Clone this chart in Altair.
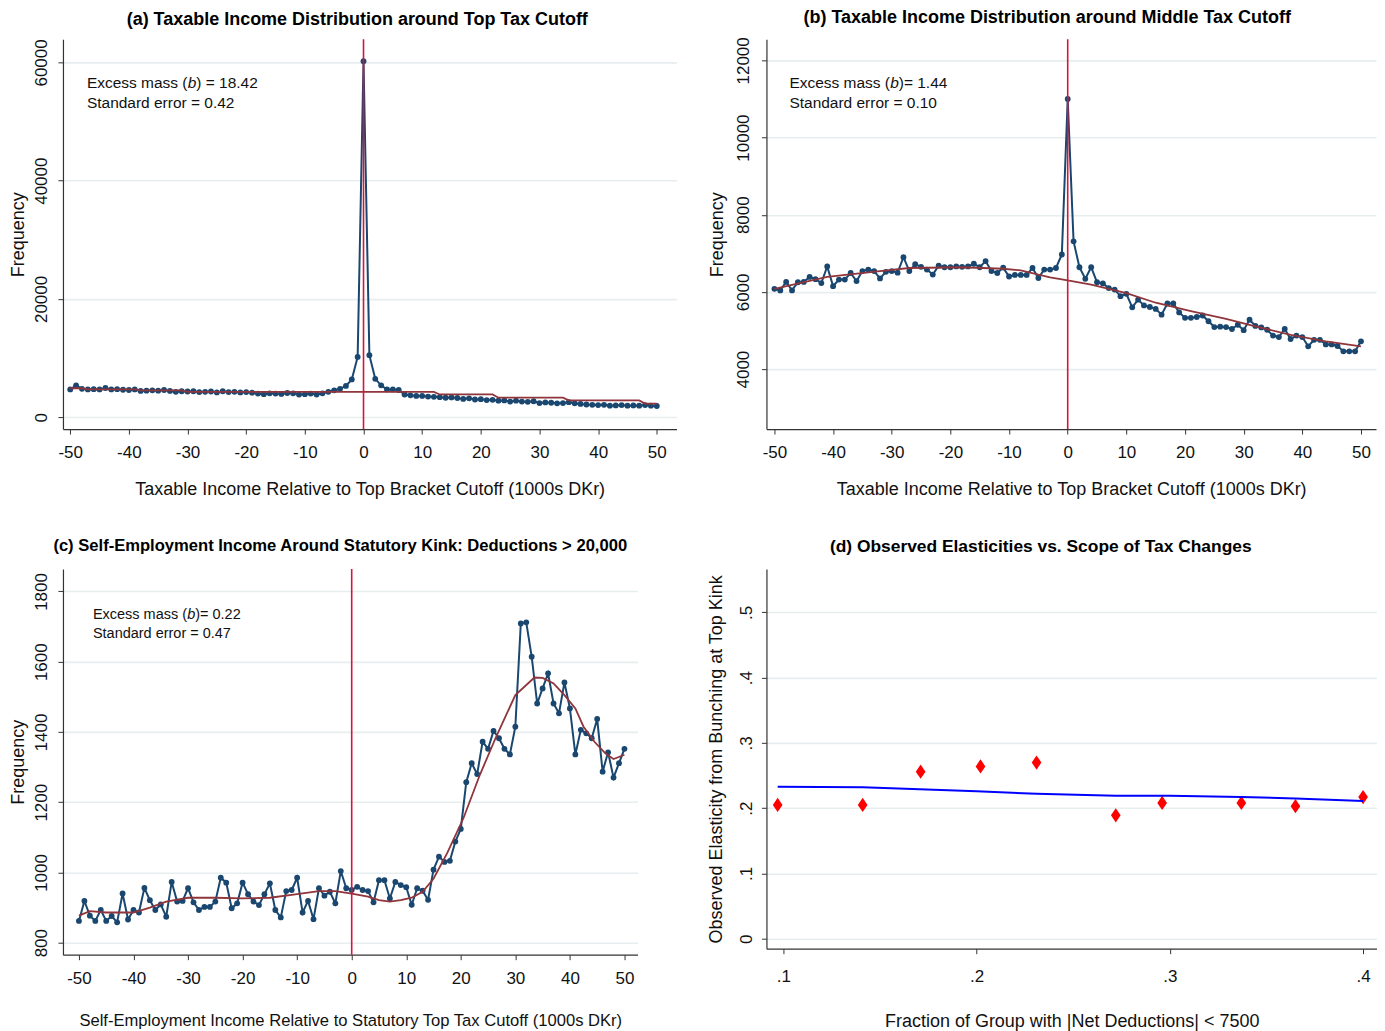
import altair as alt
import pandas as pd

# ---------------- data ----------------
bins = list(range(-50, 51))

a_freq = [4700, 5400, 4800, 4700, 4750, 4700, 4950, 4700, 4750, 4650,
          4600, 4700, 4450, 4500, 4550, 4500, 4600, 4450, 4300, 4400,
          4350, 4400, 4250, 4300, 4350, 4200, 4400, 4250, 4300, 4200,
          4250, 4150, 4000, 3900, 4050, 4000, 3950, 4100, 4050, 3850,
          3900, 4000, 3850, 4050, 4300, 4550, 4800, 5300, 6400, 10200,
          60200, 10500, 6500, 5400, 4700, 4700, 4600, 3850, 3700, 3600,
          3600, 3500, 3450, 3400, 3300, 3350, 3250, 3100, 3200, 3000,
          3050, 2900, 2950, 2800, 2850, 2650, 2800, 2650, 2600, 2700,
          2400, 2500, 2450, 2350, 2400, 2550, 2350, 2250, 2150, 2100,
          2050, 2100, 1950, 2000, 2050, 1950, 2000, 1950, 2050, 1950,
          1900]
a_fit_x = [-50, -48, -47, -39, -38, -31, -30, 12, 13, 22, 23, 34, 35, 47, 48, 50]
a_fit_y = [4900, 4900, 4700, 4700, 4550, 4550, 4300, 4300, 3850, 3850, 3300, 3300,
           2850, 2850, 2300, 2300]

b_freq = [6080, 6040, 6260, 6040, 6250, 6260, 6390, 6330, 6230, 6660,
          6150, 6320, 6320, 6490, 6280, 6540, 6580, 6540, 6350, 6520,
          6540, 6500, 6900, 6540, 6720, 6650, 6580, 6450, 6680, 6640,
          6640, 6660, 6650, 6660, 6730, 6640, 6800, 6540, 6490, 6630,
          6400, 6440, 6440, 6440, 6620, 6360, 6580, 6580, 6620, 6970,
          11000, 7310, 6640, 6340, 6640, 6250, 6220, 6100, 6060, 5890,
          5950, 5600, 5800, 5650, 5610, 5560, 5410, 5700, 5700, 5470,
          5330, 5330, 5350, 5390, 5240, 5090, 5100, 5090, 5040, 5150,
          5010, 5280, 5120, 5080, 5020, 4870, 4830, 5040, 4780, 4870,
          4830, 4590, 4760, 4760, 4640, 4640, 4600, 4460, 4460, 4460,
          4720]
b_fit_x = [-50, -41, -32, -27, -18, -11, -8, -5, -3, 0, 4, 10, 15, 21, 27, 32, 38, 44, 50]
b_fit_y = [6080, 6390, 6540, 6620, 6640, 6600, 6560, 6450, 6380, 6300, 6190, 5970,
           5720, 5500, 5300, 5110, 4890, 4720, 4590]

c_freq = [862, 919, 877, 862, 893, 862, 876, 858, 940, 866,
          893, 886, 956, 921, 893, 909, 874, 973, 917, 919,
          955, 915, 893, 902, 902, 917, 985, 971, 898, 912,
          971, 938, 917, 907, 938, 969, 893, 872, 947, 950,
          985, 886, 919, 867, 955, 934, 945, 912, 1004, 955,
          950, 959, 950, 947, 915, 978, 978, 926, 973, 964,
          958, 908, 955, 948, 922, 1008, 1045, 1030, 1033, 1088,
          1124, 1257, 1311, 1280, 1372, 1352, 1403, 1382, 1352, 1336,
          1415, 1709, 1712, 1614, 1481, 1524, 1567, 1481, 1453, 1541,
          1467, 1336, 1406, 1396, 1382, 1437, 1287, 1342, 1270, 1311,
          1352]
c_fit_x = [-50, -48, -45, -40, -37, -34, -30, -25, -20, -15, -10, -6, -3, 0, 3, 5, 7, 9,
           11, 13, 15, 17.5, 20.5, 23.5, 26.5, 30, 33.5, 35, 37, 39, 41, 42.5, 44.5,
           46.5, 48, 50]
c_fit_y = [877, 890, 886, 886, 900, 917, 928, 928, 926, 928, 938, 947, 947, 940, 931,
           921, 917, 921, 928, 945, 982, 1055, 1155, 1278, 1387, 1505, 1555, 1554,
           1538, 1505, 1467, 1415, 1372, 1339, 1323, 1335]

d_frac = [0.097, 0.141, 0.171, 0.202, 0.231, 0.272, 0.296, 0.337, 0.365, 0.400]
d_elast = [0.205, 0.205, 0.256, 0.264, 0.270, 0.189, 0.208, 0.208, 0.203, 0.217]
d_fit_x = [0.097, 0.141, 0.200, 0.231, 0.272, 0.300, 0.337, 0.365, 0.400]
d_fit_y = [0.233, 0.232, 0.226, 0.222, 0.219, 0.219, 0.217, 0.215, 0.211]

titles = ["(a) Taxable Income Distribution around Top Tax Cutoff",
          "(b) Taxable Income Distribution around Middle Tax Cutoff",
          "(c) Self-Employment Income Around Statutory Kink: Deductions > 20,000",
          "(d) Observed Elasticities vs. Scope of Tax Changes"]
x_titles = ["Taxable Income Relative to Top Bracket Cutoff (1000s DKr)",
            "Taxable Income Relative to Top Bracket Cutoff (1000s DKr)",
            "Self-Employment Income Relative to Statutory Top Tax Cutoff (1000s DKr)",
            "Fraction of Group with |Net Deductions| < 7500"]
y_titles = ["Frequency", "Frequency", "Frequency",
            "Observed Elasticity  from Bunching at Top Kink"]
excess = [("Excess mass (", ") = 18.42", "Standard error = 0.42"),
          ("Excess mass (", ")= 1.44", "Standard error = 0.10"),
          ("Excess mass (", ")= 0.22", "Standard error = 0.47")]

x_ticks = [-50, -40, -30, -20, -10, 0, 10, 20, 30, 40, 50]
y_ticks = [[0, 20000, 40000, 60000],
           [4000, 6000, 8000, 10000, 12000],
           [800, 1000, 1200, 1400, 1600, 1800],
           [0, 0.1, 0.2, 0.3, 0.4, 0.5]]
d_x_ticks = [0.1, 0.2, 0.3, 0.4]

# ---------------- style ----------------
FONT = "Liberation Sans"
NAVY = "#1a476f"
MAROON = "#90353b"
VLINE = "#d4163c"
GRID = "#e6eef0"
INK = "#111111"
INT_LABEL = "datum.value + ''"
DEC_LABEL = "datum.value == 0 ? '0' : replace(format(datum.value, '.1f'), '0.', '.')"
NO_FRAME = alt.ViewBackground(stroke="transparent", strokeWidth=0)


def xaxis(title, values, pad, tpad, label_expr=INT_LABEL, tsize=18):
    return alt.Axis(title=title, values=values, grid=False, labelExpr=label_expr,
                    domainColor="#333333", domainWidth=1.2, tickColor="#333333",
                    tickSize=5, labelPadding=pad, labelFont=FONT, labelFontSize=17,
                    labelColor=INK, labelAngle=0, titleFont=FONT, titleFontSize=tsize,
                    titleFontWeight="normal", titleColor=INK, titlePadding=tpad,
                    labelFlush=False, labelOverlap=False)


def yaxis(title, values, pad, tpad, label_expr=INT_LABEL):
    return alt.Axis(title=title, values=values, grid=True, gridColor=GRID, gridWidth=1.6,
                    domainColor="#333333", domainWidth=1.2, tickColor="#333333",
                    tickSize=5, labelPadding=pad, labelFont=FONT, labelFontSize=17,
                    labelColor=INK, labelAngle=270, labelAlign="center",
                    labelBaseline="bottom", labelExpr=label_expr,
                    titleFont=FONT, titleFontSize=18, titleFontWeight="normal",
                    titleColor=INK, titlePadding=tpad, labelFlush=False,
                    labelOverlap=False)


def annotation(parts, x0, y0, size, w1, w2, gap):
    first, rest, second = parts
    base = alt.Chart(pd.DataFrame({"k": [0]}))
    common = dict(align="left", baseline="middle", font=FONT, fontSize=size, color=INK)
    t1 = base.mark_text(**common).encode(x=alt.value(x0), y=alt.value(y0),
                                         text=alt.value(first))
    t2 = base.mark_text(fontStyle="italic", **common).encode(
        x=alt.value(x0 + w1), y=alt.value(y0), text=alt.value("b"))
    t3 = base.mark_text(**common).encode(x=alt.value(x0 + w1 + w2), y=alt.value(y0),
                                         text=alt.value(rest))
    t4 = base.mark_text(**common).encode(x=alt.value(x0), y=alt.value(y0 + gap),
                                         text=alt.value(second))
    return [t1, t2, t3, t4]


def title(i, size, dx, offset):
    return alt.TitleParams(titles[i], font=FONT, fontSize=size, fontWeight="bold",
                           color="#000000", anchor="middle", frame="group",
                           dx=dx, offset=offset)


def hist_panel(i, freq, fit_x, fit_y, xdom, ydom, w, h, xaxis_args, ypad, ytpad,
               ttl, ann):
    df = pd.DataFrame({"x": bins, "y": freq})
    fit = pd.DataFrame({"x": fit_x, "y": fit_y})
    xs = alt.Scale(domain=xdom, nice=False, zero=False)
    ys = alt.Scale(domain=ydom, nice=False, zero=False)
    xe = alt.X("x:Q", scale=xs, axis=xaxis(x_titles[i], x_ticks, *xaxis_args))
    ye = alt.Y("y:Q", scale=ys, axis=yaxis(y_titles[i], y_ticks[i], ypad, ytpad))
    base = alt.Chart(df)
    line = base.mark_line(color=NAVY, strokeWidth=2, clip=True).encode(x=xe, y=ye)
    pts = base.mark_circle(color=NAVY, size=34, opacity=1, clip=True).encode(
        x="x:Q", y="y:Q")
    fitl = alt.Chart(fit).mark_line(color=MAROON, strokeWidth=1.8).encode(
        x="x:Q", y="y:Q")
    vl = alt.Chart(pd.DataFrame({"x": [0]})).mark_rule(
        color=VLINE, strokeWidth=1.6).encode(x="x:Q")
    layers = [line, pts, fitl, vl] + annotation(*ann)
    return alt.layer(*layers).properties(width=w, height=h, title=ttl, view=NO_FRAME)


pa = hist_panel(0, a_freq, a_fit_x, a_fit_y, [-51.24, 53.36], [-2000, 63900], 614, 390,
                (10, 20), 7, 5, title(0, 18, -12.5, 10),
                (excess[0], 24, 44, 15.5, 100.8, 8.6, 20))
pb = hist_panel(1, b_freq, b_fit_x, b_fit_y, [-51.36, 52.56], [2447, 12544], 610, 390,
                (10, 20), 9, 8, title(1, 18, -24, 10),
                (excess[1], 23, 44, 15.5, 100.8, 8.6, 20))
pc = hist_panel(2, c_freq, c_fit_x, c_fit_y, [-52.93, 52.4], [765.9, 1864], 575, 386,
                (11, 26, INT_LABEL, 16.6), 7, 5, title(2, 16.6, -10, 14),
                (excess[2], 30, 46, 14.5, 94.3, 8.1, 19))

# panel d
ddf = pd.DataFrame({"x": d_frac, "y": d_elast})
dfit = pd.DataFrame({"x": d_fit_x, "y": d_fit_y})
dxs = alt.Scale(domain=[0.0912, 0.4072], nice=False, zero=False)
dys = alt.Scale(domain=[-0.0153, 0.5666], nice=False, zero=False)
d_line = alt.Chart(dfit).mark_line(color="#0000ff", strokeWidth=2).encode(
    x=alt.X("x:Q", scale=dxs, axis=xaxis(x_titles[3], d_x_ticks, 15, 28, DEC_LABEL)),
    y=alt.Y("y:Q", scale=dys, axis=yaxis(y_titles[3], y_ticks[3], 6, 12, DEC_LABEL)))
d_pts = alt.Chart(ddf).mark_point(shape="M0,-1.25L0.85,0L0,1.25L-0.85,0Z", filled=True,
                                  color="#ff0000", size=130, opacity=1).encode(
    x="x:Q", y="y:Q")
pd_ = alt.layer(d_pts, d_line).properties(width=611, height=380,
                                          title=title(3, 17.4, -31, 14), view=NO_FRAME)

row1 = alt.hconcat(pa, pb, spacing=31)
row2 = alt.concat(pc, pd_, columns=2, align="none", spacing=70)
chart = (alt.concat(row1, row2, columns=1, align="none", spacing=39)
         .properties(padding={"left": 2, "top": 0, "right": 0, "bottom": 0})
         .configure_view(stroke="transparent", strokeWidth=0)
         .configure_axisX(grid=False)
         .configure(background="white"))

chart.save("out.html", embed_options={"renderer": "svg", "actions": False})
